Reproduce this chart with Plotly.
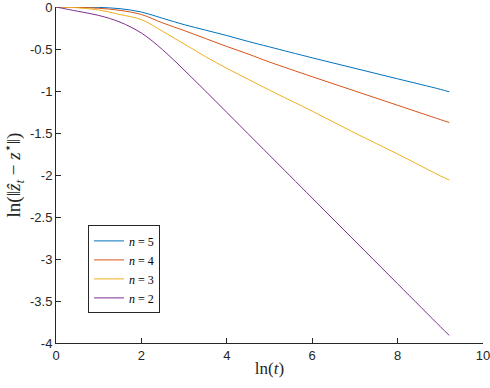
import plotly.graph_objects as go

# ln(t) sample points
ln_t = [0, 0.5, 1, 1.5, 2, 2.5, 3, 3.5, 4, 4.5, 5, 6, 7, 8, 9, 9.21]

err_n5 = [0, 0, -0.005, -0.02, -0.06, -0.135, -0.21, -0.275, -0.34, -0.41, -0.475, -0.605, -0.73, -0.855, -0.98, -1.01]
err_n4 = [0, -0.005, -0.015, -0.04, -0.09, -0.19, -0.28, -0.375, -0.47, -0.56, -0.655, -0.83, -1.0, -1.17, -1.34, -1.375]
err_n3 = [0, -0.01, -0.035, -0.09, -0.15, -0.29, -0.44, -0.59, -0.73, -0.86, -0.99, -1.24, -1.50, -1.75, -2.01, -2.06]
err_n2 = [0, -0.05, -0.10, -0.18, -0.31, -0.51, -0.75, -1.0, -1.255, -1.51, -1.765, -2.275, -2.785, -3.295, -3.805, -3.91]

series = [
    ("5", err_n5, "#0072BD"),
    ("4", err_n4, "#D95319"),
    ("3", err_n3, "#EDB120"),
    ("2", err_n2, "#7E2F8E"),
]

x_ticks = [0, 2, 4, 6, 8, 10]
y_ticks = [0, -0.5, -1, -1.5, -2, -2.5, -3, -3.5, -4]
y_tick_text = ["0", "-0.5", "-1", "-1.5", "-2", "-2.5", "-3", "-3.5", "-4"]

AX = "#262626"
SERIF = "Liberation Serif, DejaVu Serif, serif"
SANS = "Liberation Sans, Arial, sans-serif"

fig = go.Figure()
for n, ys, col in series:
    fig.add_trace(go.Scatter(
        x=ln_t, y=ys, mode="lines",
        line=dict(color=col, width=1, shape="spline", smoothing=1.0),
        name=f"<i>n</i> = {n}",
    ))

axis_common = dict(
    showline=True, linecolor=AX, linewidth=1, showgrid=False, zeroline=False,
    ticks="inside", ticklen=5, tickcolor=AX, tickwidth=1,
    tickfont=dict(family=SANS, size=13, color=AX),
    ticklabeloverflow="allow", automargin=False,
)
fig.update_xaxes(
    range=[0, 10], tickvals=x_ticks, ticktext=[str(v) for v in x_ticks],
    title=dict(text="ln(<i>t</i>)", font=dict(family=SERIF, size=17, color=AX), standoff=0),
    **axis_common,
)
fig.update_yaxes(
    range=[-4, 0], tickvals=y_ticks, ticktext=y_tick_text,
    title=dict(text="ln(‖<i>ẑ</i><sub><i>t</i></sub> − <i>z</i><sup>⋆</sup>‖)",
               font=dict(family=SERIF, size=19, color=AX), standoff=8),
    **axis_common,
)
fig.update_layout(
    width=490, height=388,
    margin=dict(l=56, r=7, t=7, b=45),
    plot_bgcolor="white", paper_bgcolor="white",
    legend=dict(
        x=0.075, y=0.35, xanchor="left", yanchor="top",
        bgcolor="white", bordercolor=AX, borderwidth=1,
        font=dict(family=SERIF, size=12, color="black"),
        tracegroupgap=0, itemwidth=30,
    ),
)

# drop the default page margin so the figure sits at the window's corner
fig.write_html("out.html", config={"displayModeBar": False},
               post_script="document.body.style.margin='0';")
